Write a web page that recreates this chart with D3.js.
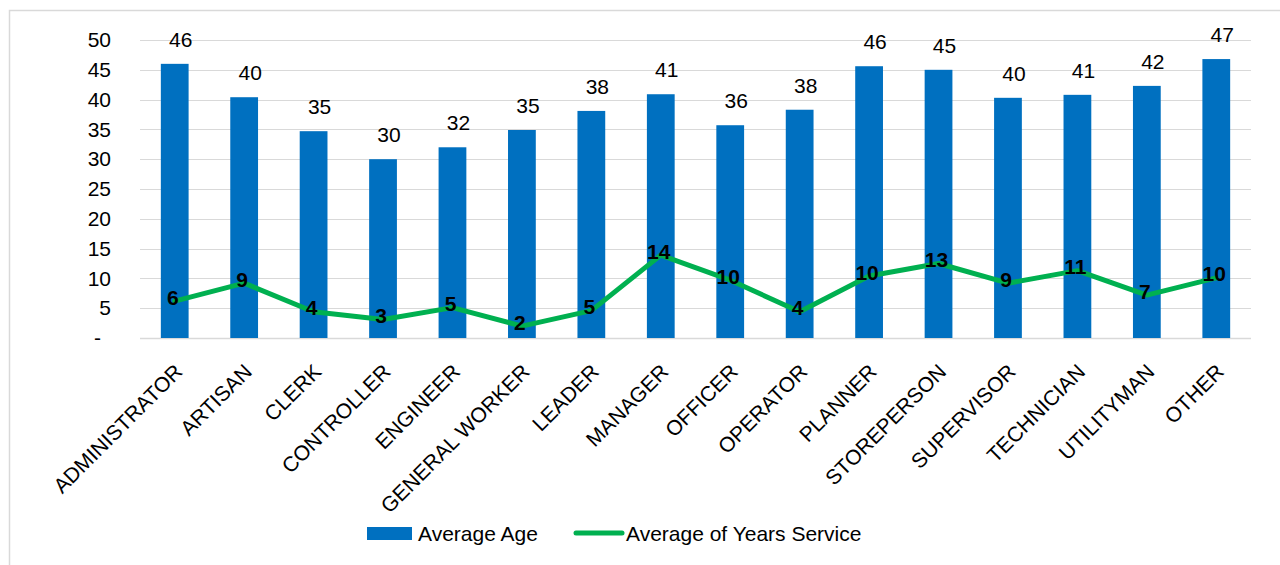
<!DOCTYPE html>
<html>
<head>
<meta charset="utf-8">
<script src="https://cdn.jsdelivr.net/npm/d3@7/dist/d3.min.js"></script>
<style>
  html, body { margin: 0; padding: 0; background: #fff; }
  svg { display: block; font-family: "Liberation Sans", Arial, sans-serif; }
</style>
</head>
<body>
<svg id="chart" width="1280" height="565"></svg>
<script>
const categories = ["ADMINISTRATOR", "ARTISAN", "CLERK", "CONTROLLER", "ENGINEER", "GENERAL WORKER",
  "LEADER", "MANAGER", "OFFICER", "OPERATOR", "PLANNER", "STOREPERSON", "SUPERVISOR",
  "TECHNICIAN", "UTILITYMAN", "OTHER"];
const averageAge = [46.0, 40.4, 34.7, 30.0, 32.0, 34.9, 38.1, 40.9, 35.7, 38.3, 45.6, 45.0, 40.3, 40.8, 42.3, 46.8];
const averageYearsService = [6.2, 9.2, 4.4, 3.1, 5.1, 2.0, 4.6, 13.9, 9.7, 4.4, 10.4, 12.5, 9.2, 11.3, 7.2, 10.1];
const yTicks = [0, 5, 10, 15, 20, 25, 30, 35, 40, 45, 50];
const seriesNames = ["Average Age", "Average of Years Service"];

const svg = d3.select("#chart");
const W = 1280, H = 565;
const blue = "#0070C0", green = "#00B050", grid = "#d9d9d9";
const plot = { left: 140, right: 1251, top: 40, bottom: 338 };

// chart border
svg.append("rect").attr("x", 9.5).attr("y", 10.5).attr("width", W + 20).attr("height", H + 20)
  .attr("fill", "#fff").attr("stroke", grid).attr("stroke-width", 1.5);

const x = d3.scaleBand().domain(categories).range([plot.left, plot.right])
  .paddingInner(0.6).paddingOuter(0.3);
const y = d3.scaleLinear().domain([0, 50]).range([plot.bottom, plot.top]);

// gridlines
svg.append("g").selectAll("line").data(yTicks).join("line")
  .attr("x1", plot.left).attr("x2", plot.right)
  .attr("y1", d => Math.round(y(d)) + 0.5).attr("y2", d => Math.round(y(d)) + 0.5)
  .attr("stroke", grid).attr("stroke-width", d => d === 0 ? 1.5 : 1);

// y axis
const yAxis = d3.axisLeft(y).tickValues(yTicks).tickSize(0).tickPadding(0)
  .tickFormat(d => d === 0 ? "-" : d);
const gy = svg.append("g").attr("transform", `translate(111,0)`).call(yAxis);
gy.select(".domain").remove();
gy.selectAll("text").attr("font-size", 21).attr("fill", "#000")
  .attr("font-family", "Liberation Sans, Arial, sans-serif")
  .attr("dx", d => d === 0 ? -10 : 0);

// bars
svg.append("g").selectAll("rect").data(categories).join("rect")
  .attr("x", d => x(d)).attr("width", x.bandwidth())
  .attr("y", (d, i) => y(averageAge[i]))
  .attr("height", (d, i) => y(0) - y(averageAge[i]))
  .attr("fill", blue);

// bar labels
svg.append("g").selectAll("text").data(categories).join("text")
  .attr("x", d => x(d) + x.bandwidth() / 2 + 6)
  .attr("y", (d, i) => y(averageAge[i]) - 17)
  .attr("text-anchor", "middle").attr("font-size", 21).attr("fill", "#000")
  .text((d, i) => Math.round(averageAge[i]));

// x axis
const xAxis = d3.axisBottom(x).tickSize(0).tickPadding(0);
const gx = svg.append("g").attr("transform", `translate(0,${plot.bottom})`).call(xAxis);
gx.select(".domain").remove();
gx.selectAll("text")
  .attr("font-size", 21).attr("fill", "#000")
  .attr("font-family", "Liberation Sans, Arial, sans-serif")
  .attr("text-anchor", "end")
  .attr("y", 0).attr("dy", "0")
  .attr("transform", "translate(9,35) rotate(-45)");

// line
const cx = d => x(d) + x.bandwidth() / 2;
const line = d3.line().x((d, i) => cx(categories[i])).y(d => y(d));
svg.append("path").datum(averageYearsService).attr("d", line)
  .attr("fill", "none").attr("stroke", green).attr("stroke-width", 5)
  .attr("stroke-linejoin", "round").attr("stroke-linecap", "round");

// line labels
svg.append("g").selectAll("text").data(averageYearsService).join("text")
  .attr("x", (d, i) => cx(categories[i]) - 2)
  .attr("y", d => y(d) - 4)
  .attr("text-anchor", "middle").attr("dominant-baseline", "central")
  .attr("font-size", 21).attr("font-weight", "bold").attr("fill", "#000")
  .text(d => Math.round(d));

// legend
const lg = svg.append("g");
lg.append("rect").attr("x", 367).attr("y", 527).attr("width", 45).attr("height", 13).attr("fill", blue);
lg.append("text").attr("x", 418).attr("y", 533).attr("dominant-baseline", "central")
  .attr("font-size", 21).attr("fill", "#000").text(seriesNames[0]);
lg.append("line").attr("x1", 576).attr("x2", 622).attr("y1", 533).attr("y2", 533)
  .attr("stroke", green).attr("stroke-width", 5).attr("stroke-linecap", "round");
lg.append("text").attr("x", 626).attr("y", 533).attr("dominant-baseline", "central")
  .attr("font-size", 21).attr("fill", "#000").text(seriesNames[1]);
</script>
</body>
</html>
